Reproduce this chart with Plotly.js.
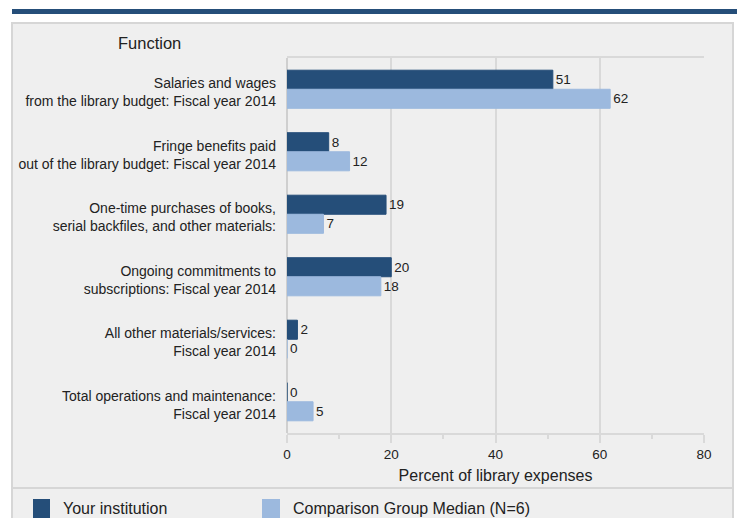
<!DOCTYPE html>
<html>
<head>
<meta charset="utf-8">
<script src="https://cdn.plot.ly/plotly-3.0.1.min.js"></script>
<style>html,body{margin:0;padding:0;background:#fff;}#chart{width:737px;height:518px;}</style>
</head>
<body>
<div id="chart"></div>
<script>
const categories = [
  "Salaries and wages<br>from the library budget: Fiscal year 2014",
  "Fringe benefits paid<br>out of the library budget: Fiscal year 2014",
  "One-time purchases of books,<br>serial backfiles, and other materials:",
  "Ongoing commitments to<br>subscriptions: Fiscal year 2014",
  "All other materials/services:<br>Fiscal year 2014",
  "Total operations and maintenance:<br>Fiscal year 2014"
];
const yourInstitution = [51, 8, 19, 20, 2, 0];
const groupMedian = [62, 12, 7, 18, 0, 5];
const seriesNames = ["Your institution", "Comparison Group Median (N=6)"];
const xTicks = [0, 20, 40, 60, 80];
const axisTitle = "Percent of library expenses";
const headerLabel = "Function";

const darkBlue = "#254e79";
const lightBlue = "#9cb9de";
const font = "'Liberation Sans', Arial, sans-serif";

const traces = [
  {type: "bar", orientation: "h", name: seriesNames[0], y: categories, x: yourInstitution,
   marker: {color: darkBlue, line: {color: darkBlue, width: 1}}, text: yourInstitution.map(String), textposition: "outside",
   constraintext: "none", textfont: {size: 13.5, color: "#222"}, cliponaxis: false, hoverinfo: "x"},
  {type: "bar", orientation: "h", name: seriesNames[1], y: categories, x: groupMedian,
   marker: {color: lightBlue, line: {color: lightBlue, width: 1}}, text: groupMedian.map(String), textposition: "outside",
   constraintext: "none", textfont: {size: 13.5, color: "#222"}, cliponaxis: false, hoverinfo: "x"}
];

// pixel -> paper helpers (plot area: x 287..704, y 58..433)
const L = 287, R = 704, T = 58, B = 433;
const px = v => (v - L) / (R - L);
const py = v => (B - v) / (B - T);

const layout = {
  width: 737, height: 518,
  margin: {l: L, r: 737 - R, t: T, b: 518 - B},
  paper_bgcolor: "#ffffff",
  plot_bgcolor: "#efefef",
  font: {family: font, size: 14, color: "#222"},
  barmode: "group",
  bargap: 0.39,
  bargroupgap: 0,
  showlegend: false,
  xaxis: {
    range: [0, 80], tickvals: xTicks, ticktext: xTicks.map(String),
    showgrid: true, gridcolor: "#d9d9d9", gridwidth: 2,
    zeroline: true, zerolinecolor: "#cfcfcf", zerolinewidth: 2,
    showline: true, linecolor: "#d9d9d9", linewidth: 2, mirror: true,
    ticks: "outside", ticklen: 8, tickcolor: "#d9d9d9", tickwidth: 2,
    minor: {dtick: 10, ticks: "outside", ticklen: 4, tickcolor: "#d9d9d9", showgrid: false},
    tickfont: {size: 13.5, color: "#222"},
    title: {text: axisTitle, font: {size: 16, color: "#222"}, standoff: 9},
    fixedrange: true
  },
  yaxis: {
    type: "category", autorange: "reversed",
    showgrid: false, zeroline: false, showline: false,
    ticks: "", ticklabelstandoff: 10, ticklabelshift: -3,
    tickfont: {size: 14, color: "#222"},
    fixedrange: true
  },
  shapes: [
    {type: "rect", xref: "paper", yref: "paper", x0: px(12), x1: px(733), y0: py(540), y1: py(23),
     fillcolor: "#efefef", line: {color: "#d6d6d6", width: 2}, layer: "below"},
    {type: "rect", xref: "paper", yref: "paper", x0: px(12), x1: px(740), y0: py(14), y1: py(9),
     fillcolor: darkBlue, line: {width: 0}, layer: "below"},
    {type: "line", xref: "paper", yref: "paper", x0: px(12), x1: px(733), y0: py(488), y1: py(488),
     line: {color: "#d6d6d6", width: 2}, layer: "below"},
    {type: "rect", xref: "paper", yref: "paper", x0: px(33), x1: px(50), y0: py(525), y1: py(499),
     fillcolor: darkBlue, line: {width: 0}},
    {type: "rect", xref: "paper", yref: "paper", x0: px(262), x1: px(280), y0: py(525), y1: py(499),
     fillcolor: lightBlue, line: {width: 0}}
  ],
  annotations: [
    {xref: "paper", yref: "paper", x: px(149), y: py(43), text: headerLabel, showarrow: false,
     xanchor: "center", yanchor: "middle", font: {size: 16.5, color: "#222"}},
    {xref: "paper", yref: "paper", x: px(61), y: py(509), text: seriesNames[0], showarrow: false,
     xanchor: "left", yanchor: "middle", font: {size: 16, color: "#222"}},
    {xref: "paper", yref: "paper", x: px(291), y: py(509), text: seriesNames[1], showarrow: false,
     xanchor: "left", yanchor: "middle", font: {size: 16, color: "#222"}}
  ]
};

Plotly.newPlot("chart", traces, layout, {displayModeBar: false, staticPlot: true});
</script>
</body>
</html>
